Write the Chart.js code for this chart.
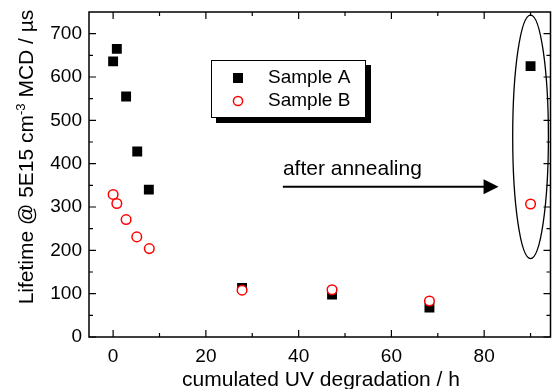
<!DOCTYPE html>
<html>
<head>
<meta charset="utf-8">
<script src="https://cdn.jsdelivr.net/npm/chart.js@4.4.1/dist/chart.umd.min.js"></script>
<style>
  html, body { margin: 0; padding: 0; background: #fff; }
  #wrap { width: 552px; height: 389px; }
</style>
</head>
<body>
<div id="wrap"><canvas id="chart"></canvas></div>
<script>
// values
const hoursA = [0, 0.8, 2.8, 5.2, 7.7, 27.8, 47.2, 68.2, 90];
const lifetimeA = [636, 665, 555, 428, 340, 113, 98, 68, 625];
const hoursB = [0, 0.8, 2.8, 5.1, 7.8, 27.8, 47.2, 68.2, 90];
const lifetimeB = [329, 308, 271, 231, 204, 108, 109, 83, 307];

const xTicks = [0, 20, 40, 60, 80];
const xMinorTicks = [10, 30, 50, 70, 90];
const yTicks = [0, 100, 200, 300, 400, 500, 600, 700];
const yMinorTicks = [50, 150, 250, 350, 450, 550, 650];

const seriesNames = ['Sample A', 'Sample B'];
const xTitle = 'cumulated UV degradation / h';
const yTitleParts = ['Lifetime @ 5E15 cm', '-3', ' MCD / µs'];
const noteText = 'after annealing';

// annotation anchors, in data units
const arrowFrom = [36.6, 347];
const arrowTo = [83.1, 347];
const notePos = [36.6, 375];
const ellipseCentre = [90, 462];
const ellipseRadii = [3.85, 281];

const FONT = "'Liberation Sans', Arial, sans-serif";

const noPad = (s) => { s.paddingTop = 0; s.paddingBottom = 0; s.paddingLeft = 0; s.paddingRight = 0; };

const decor = {
  id: 'decor',
  afterDatasetsDraw(chart) {
    const { ctx, chartArea: a, scales: { x, y } } = chart;
    ctx.save();
    ctx.strokeStyle = '#000';
    ctx.fillStyle = '#000';

    // frame + inward ticks on all four sides
    ctx.lineWidth = 1.5;
    ctx.strokeRect(a.left, a.top, a.right - a.left, a.bottom - a.top);
    ctx.lineWidth = 1.2;
    ctx.beginPath();
    const xt = (v, len) => {
      const px = x.getPixelForValue(v);
      ctx.moveTo(px, a.bottom); ctx.lineTo(px, a.bottom - len);
      ctx.moveTo(px, a.top); ctx.lineTo(px, a.top + len);
    };
    const yt = (v, len) => {
      const py = y.getPixelForValue(v);
      ctx.moveTo(a.left, py); ctx.lineTo(a.left + len, py);
      ctx.moveTo(a.right, py); ctx.lineTo(a.right - len, py);
    };
    xTicks.forEach(v => xt(v, 7));
    xMinorTicks.forEach(v => xt(v, 4));
    yTicks.forEach(v => yt(v, 7));
    yMinorTicks.forEach(v => yt(v, 4));
    ctx.stroke();

    // ellipse round the annealed points
    const cx = x.getPixelForValue(ellipseCentre[0]);
    const cy = y.getPixelForValue(ellipseCentre[1]);
    const rx = x.getPixelForValue(ellipseCentre[0] + ellipseRadii[0]) - cx;
    const ry = cy - y.getPixelForValue(ellipseCentre[1] + ellipseRadii[1]);
    ctx.lineWidth = 1.3;
    ctx.beginPath();
    ctx.ellipse(cx, cy, rx, ry, 0, 0, Math.PI * 2);
    ctx.stroke();

    // arrow
    const x0 = x.getPixelForValue(arrowFrom[0]);
    const x1 = x.getPixelForValue(arrowTo[0]);
    const ay = y.getPixelForValue(arrowFrom[1]);
    ctx.lineWidth = 2;
    ctx.beginPath();
    ctx.moveTo(x0, ay); ctx.lineTo(x1 - 12, ay);
    ctx.stroke();
    ctx.beginPath();
    ctx.moveTo(x1, ay); ctx.lineTo(x1 - 15, ay - 7.5); ctx.lineTo(x1 - 15, ay + 7.5);
    ctx.closePath();
    ctx.fill();

    ctx.font = `21px ${FONT}`;
    ctx.textBaseline = 'alphabetic';
    ctx.textAlign = 'left';
    ctx.fillText(noteText, x.getPixelForValue(notePos[0]), y.getPixelForValue(notePos[1]));

    // legend with drop shadow
    ctx.fillRect(216, 65, 155, 58);
    ctx.fillStyle = '#fff';
    ctx.fillRect(211, 60, 155, 58);
    ctx.lineWidth = 1;
    ctx.strokeRect(211.5, 60.5, 154, 57);
    ctx.fillStyle = '#000';
    ctx.fillRect(233, 73, 10, 10);
    ctx.strokeStyle = '#ff0000';
    ctx.lineWidth = 1.5;
    ctx.beginPath();
    ctx.arc(238, 101, 4.6, 0, Math.PI * 2);
    ctx.stroke();
    ctx.font = `19px ${FONT}`;
    ctx.textBaseline = 'middle';
    ctx.fillText(seriesNames[0], 268, 78);
    ctx.fillText(seriesNames[1], 268, 101);

    // axis titles
    ctx.font = `21px ${FONT}`;
    ctx.textAlign = 'center';
    ctx.textBaseline = 'alphabetic';
    ctx.fillText(xTitle, 321, 385.5);

    ctx.save();
    ctx.translate(33, 157);
    ctx.rotate(-Math.PI / 2);
    ctx.textAlign = 'left';
    const big = `21px ${FONT}`, small = `13px ${FONT}`;
    ctx.font = big; const w0 = ctx.measureText(yTitleParts[0]).width;
    const w2 = ctx.measureText(yTitleParts[2]).width;
    ctx.font = small; const w1 = ctx.measureText(yTitleParts[1]).width;
    let cur = -(w0 + w1 + w2) / 2;
    ctx.font = big; ctx.fillText(yTitleParts[0], cur, 0); cur += w0;
    ctx.font = small; ctx.fillText(yTitleParts[1], cur, -8); cur += w1;
    ctx.font = big; ctx.fillText(yTitleParts[2], cur, 0);
    ctx.restore();

    ctx.restore();
  }
};

new Chart(document.getElementById('chart'), {
  type: 'scatter',
  data: {
    datasets: [
      {
        label: seriesNames[0],
        data: hoursA.map((h, i) => ({ x: h, y: lifetimeA[i] })),
        pointStyle: 'rect',
        pointRadius: 7,
        backgroundColor: '#000',
        borderColor: '#000',
        borderWidth: 0,
        order: 1,
      },
      {
        label: seriesNames[1],
        data: hoursB.map((h, i) => ({ x: h, y: lifetimeB[i] })),
        pointStyle: 'circle',
        pointRadius: 4.8,
        backgroundColor: '#fff',
        borderColor: '#ff0000',
        borderWidth: 1.5,
        order: 0,
      },
    ],
  },
  options: {
    responsive: true,
    maintainAspectRatio: false,
    animation: false,
    events: [],
    layout: { autoPadding: false, padding: { top: 12, right: 1.5, left: 0, bottom: 0 } },
    plugins: { legend: { display: false }, tooltip: { enabled: false } },
    scales: {
      x: {
        type: 'linear',
        min: -5.2,
        max: 94.3,
        afterBuildTicks: (s) => { s.ticks = xTicks.map(v => ({ value: v })); },
        afterFit: (s) => { s.height = 52; noPad(s); },
        grid: { display: false, drawTicks: false },
        border: { display: false },
        ticks: { color: '#000', font: { family: FONT, size: 19 }, padding: 8 },
      },
      y: {
        min: 0,
        max: 750,
        afterBuildTicks: (s) => { s.ticks = yTicks.map(v => ({ value: v })); },
        afterFit: (s) => { s.width = 89; noPad(s); },
        grid: { display: false, drawTicks: false },
        border: { display: false },
        ticks: { color: '#000', font: { family: FONT, size: 19 }, padding: 7 },
      },
    },
  },
  plugins: [decor],
});
</script>
</body>
</html>
